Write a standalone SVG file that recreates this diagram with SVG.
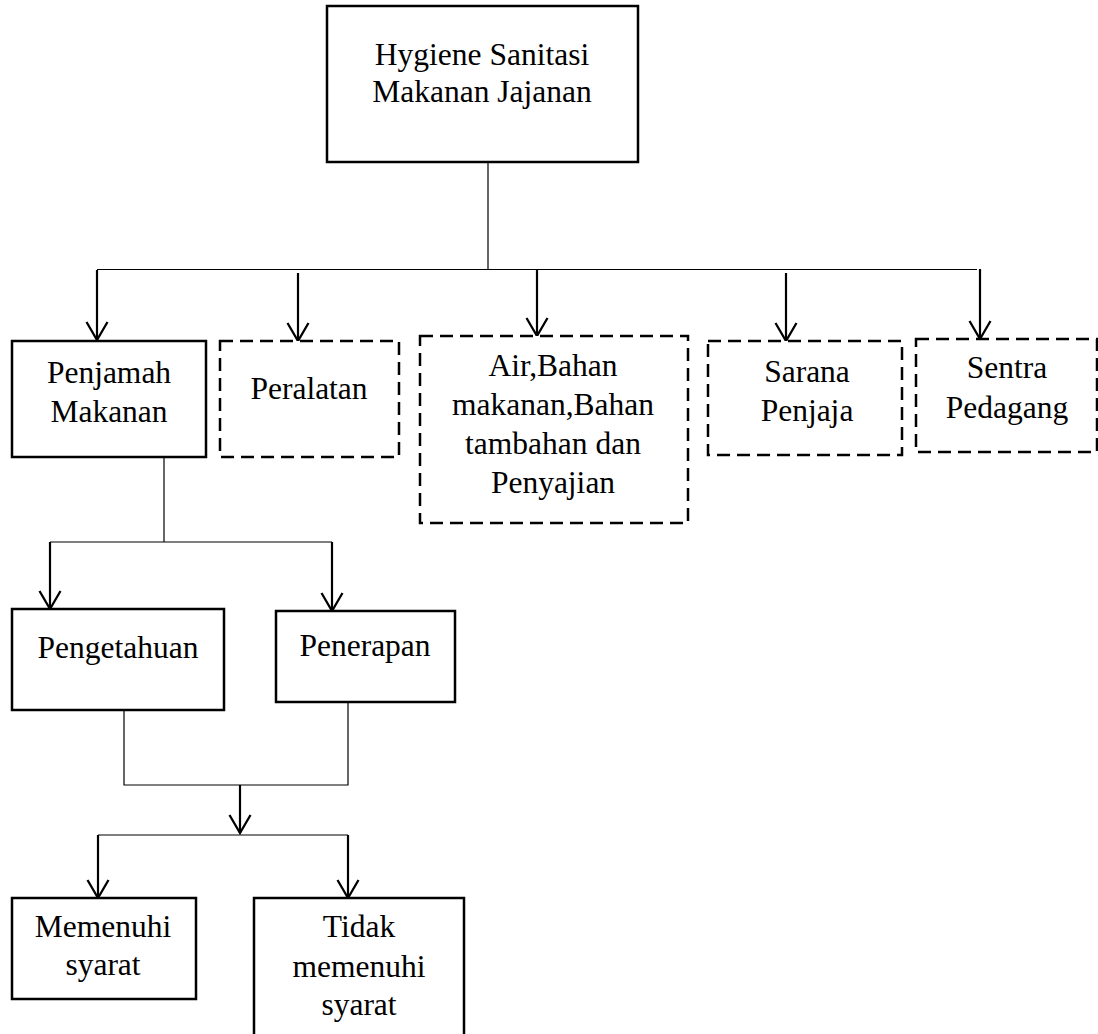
<svg xmlns="http://www.w3.org/2000/svg" width="1098" height="1034" viewBox="0 0 1098 1034">
<style>
.box{fill:#fff;stroke:#000;stroke-width:2.5}
.dash{fill:#fff;stroke:#000;stroke-width:2.5;stroke-dasharray:13 7}
.t{font-family:"Liberation Serif","Times New Roman",serif;font-size:31.5px;fill:#000;text-anchor:middle}
.thin{fill:none;stroke:#000;stroke-width:1.2}
.arr{fill:none;stroke:#000;stroke-width:2.2;marker-end:url(#v)}
</style>
<defs>
<marker id="v" markerUnits="userSpaceOnUse" viewBox="-20 -13 22 26" markerWidth="22" markerHeight="26" refX="0" refY="0" orient="auto" overflow="visible">
<path d="M-18,-10.5 L0,0 L-18,10.5" fill="none" stroke="#000" stroke-width="2.3"/>
</marker>
</defs>
<g id="connectors">
<path class="thin" d="M488,162 V270"/>
<path class="thin" d="M97,269.5 H977"/>
<path class="arr" d="M97,270 V340"/>
<path class="arr" d="M298,273 V341"/>
<path class="arr" d="M537,270 V336"/>
<path class="arr" d="M786,273 V341"/>
<path class="arr" d="M980,269 V339"/>
<path class="thin" d="M164,457 V542"/>
<path class="thin" d="M50,542 H332"/>
<path class="arr" d="M50,542 V609"/>
<path class="arr" d="M332,542 V611"/>
<path class="thin" d="M124,710 V785 H348 V702"/>
<path class="arr" d="M240,785 V833"/>
<path class="thin" d="M98,835 H348"/>
<path class="arr" d="M98,835 V898"/>
<path class="arr" d="M348,835 V898"/>
</g>
<g id="node-hygiene">
<rect class="box" x="327" y="6" width="311" height="156"/>
<text class="t" x="482" y="65">Hygiene Sanitasi</text>
<text class="t" x="482" y="102">Makanan Jajanan</text>
</g>
<g id="node-penjamah">
<rect class="box" x="12" y="341" width="194" height="116"/>
<text class="t" x="109" y="383">Penjamah</text>
<text class="t" x="109" y="422">Makanan</text>
</g>
<g id="node-peralatan">
<rect class="dash" x="220" y="341" width="179" height="116"/>
<text class="t" x="309" y="399">Peralatan</text>
</g>
<g id="node-air">
<rect class="dash" x="420" y="336" width="268" height="187"/>
<text class="t" x="553" y="376">Air,Bahan</text>
<text class="t" x="553" y="415">makanan,Bahan</text>
<text class="t" x="553" y="454">tambahan dan</text>
<text class="t" x="553" y="493">Penyajian</text>
</g>
<g id="node-sarana">
<rect class="dash" x="708" y="341" width="194" height="114"/>
<text class="t" x="807" y="382">Sarana</text>
<text class="t" x="807" y="421">Penjaja</text>
</g>
<g id="node-sentra">
<rect class="dash" x="916" y="339" width="181" height="113"/>
<text class="t" x="1007" y="378">Sentra</text>
<text class="t" x="1007" y="418">Pedagang</text>
</g>
<g id="node-pengetahuan">
<rect class="box" x="12" y="609" width="212" height="101"/>
<text class="t" x="118" y="658">Pengetahuan</text>
</g>
<g id="node-penerapan">
<rect class="box" x="276" y="611" width="179" height="91"/>
<text class="t" x="365" y="656">Penerapan</text>
</g>
<g id="node-memenuhi">
<rect class="box" x="12" y="898" width="184" height="101"/>
<text class="t" x="103" y="937">Memenuhi</text>
<text class="t" x="103" y="975">syarat</text>
</g>
<g id="node-tidak">
<rect class="box" x="254" y="898" width="210" height="145"/>
<text class="t" x="359" y="937">Tidak</text>
<text class="t" x="359" y="977">memenuhi</text>
<text class="t" x="359" y="1015">syarat</text>
</g>
</svg>
